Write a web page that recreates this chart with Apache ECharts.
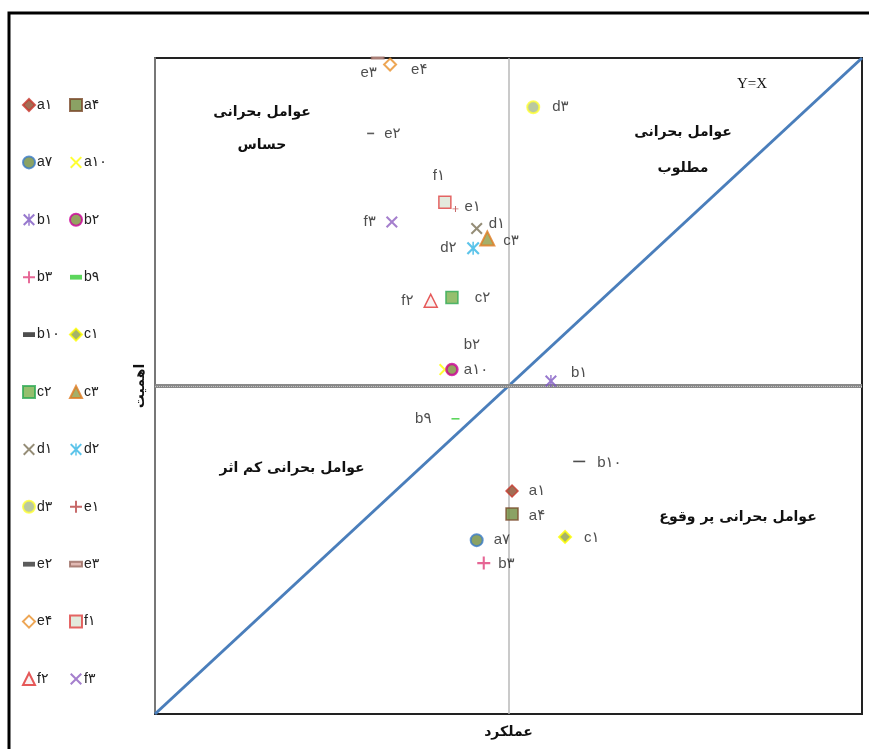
<!DOCTYPE html>
<html>
<head>
<meta charset="utf-8">
<script src="https://cdn.jsdelivr.net/npm/echarts@6/dist/echarts.min.js"></script>
<style>
  html, body { margin: 0; padding: 0; background: #fff; }
  #main { width: 869px; height: 749px; }
</style>
</head>
<body>
<div id="main"></div>
<script>
// factors (names as printed), performance (x) and importance (y)
var names = ['a۱', 'a۴', 'a۷', 'a۱۰', 'b۱', 'b۲', 'b۳', 'b۹', 'b۱۰', 'c۱', 'c۲', 'c۳',
             'd۱', 'd۲', 'd۳', 'e۱', 'e۲', 'e۳', 'e۴', 'f۱', 'f۲', 'f۳'];
var performance = [0.01, 0.01, -0.09, -0.18, 0.12, -0.16, -0.07, -0.15, 0.20, 0.16, -0.16, -0.06,
                   -0.09, -0.10, 0.07, -0.15, -0.39, -0.37, -0.335, -0.18, -0.22, -0.33];
var importance = [-0.32, -0.39, -0.47, 0.05, 0.015, 0.05, -0.54, -0.10, -0.23, -0.46, 0.27, 0.45,
                  0.48, 0.42, 0.85, 0.54, 0.77, 1.00, 0.98, 0.56, 0.26, 0.50];
var diagonal = [[-1, -1], [1, 1]];

// marker shapes
var X_PATH = 'path://M0,1.2 L1.2,0 L5,3.8 L8.8,0 L10,1.2 L6.2,5 L10,8.8 L8.8,10 L5,6.2 L1.2,10 L0,8.8 L3.8,5 Z';
var AST_PATH = X_PATH + ' M4.4,0 H5.6 V10 H4.4 Z';
var PLUS_PATH = 'path://M4.2,0 H5.8 V4.2 H10 V5.8 H5.8 V10 H4.2 V5.8 H0 V4.2 H4.2 Z';
var DASH = 'path://M0,0 H10 V4 H0 Z';

// symbol, size, fill, border, border width, label position, distance, offset
var styles = {
  'a۱':  ['diamond', 12, '#8B4A2B', '#C8372D', 1.5, 'right', 10, [0, 0]],
  'a۴':  ['rect', 12, '#6E8B3D', '#7B4A2A', 1.5, 'right', 10, [0, 2]],
  'a۷':  ['circle', 12, '#6E8B3D', '#3A7BC8', 2, 'right', 10, [0, 0]],
  'a۱۰': ['path', 12, '#FFFF00', null, 0, 'right', 13, [0, 0]],
  'b۱':  ['path', 12, '#7E57C2', null, 0, 'right', 14, [0, -8]],
  'b۲':  ['circle', 11, '#7A8B3A', '#CC0099', 2.5, 'top', 8, [20, -2]],
  'b۳':  ['path', 13, '#E0407A', null, 0, 'right', 8, [0, 1]],
  'b۹':  ['path', [8, 4], '#33CC33', null, 0, 'left', 20, [0, 0]],
  'b۱۰': ['path', [12, 4], '#222222', null, 0, 'right', 12, [0, 1]],
  'c۱':  ['diamond', 12, '#8FA045', '#FFFF00', 2, 'right', 12, [0, 1]],
  'c۲':  ['rect', 12, '#7AAF4A', '#2EAA55', 1.5, 'right', 16, [0, 0]],
  'c۳':  ['triangle', 14, '#8E9B45', '#E07B20', 2, 'right', 8, [0, 2]],
  'd۱':  ['path', 12, '#7A7055', null, 0, 'right', 6, [0, -5]],
  'd۲':  ['path', 13, '#33B5E5', null, 0, 'left', 10, [0, 0]],
  'd۳':  ['circle', 12, '#A7BA8A', '#FFFF33', 2, 'right', 12, [0, 0]],
  'e۱':  ['path', 6, '#B84040', null, 0, 'right', 6, [0, -2]],
  'e۲':  ['path', [7, 4], '#333333', null, 0, 'right', 10, [0, 0]],
  'e۳':  ['path', [12, 5], '#D9A8A0', '#9A6A60', 1.2, 'bottom', 6, [-9, 0]],
  'e۴':  ['diamond', 12, '#FFFFFF', '#E8902A', 2, 'right', 14, [0, 5]],
  'f۱':  ['rect', 12, '#DCE5D5', '#E04040', 1.5, 'top', 8, [-6, -4]],
  'f۲':  ['triangle', 13, '#F7F0F0', '#E03030', 1.5, 'left', 10, [0, 0]],
  'f۳':  ['path', 12, '#8E5FC0', null, 0, 'left', 10, [0, 0]]
};
var pathFor = {
  'a۱۰': X_PATH, 'd۱': X_PATH, 'f۳': X_PATH,
  'b۱': AST_PATH, 'd۲': AST_PATH,
  'b۳': PLUS_PATH, 'e۱': PLUS_PATH,
  'b۹': DASH, 'b۱۰': DASH, 'e۲': DASH, 'e۳': DASH
};

var series = names.map(function (n, i) {
  var s = styles[n];
  var item = { color: s[2] };
  if (s[3]) { item.borderColor = s[3]; item.borderWidth = s[4]; }
  return {
    name: n,
    type: 'scatter',
    symbol: s[0] === 'path' ? pathFor[n] : s[0],
    symbolSize: s[1],
    symbolKeepAspect: true,
    clip: false,
    z: 5,
    itemStyle: item,
    label: {
      show: true,
      position: s[5],
      distance: s[6],
      offset: s[7],
      formatter: '{a}',
      color: '#222',
      fontSize: 15,
      fontFamily: 'Liberation Sans, DejaVu Sans, sans-serif'
    },
    emphasis: { disabled: true },
    data: [[performance[i], importance[i]]]
  };
});

// Y = X line, plus the two centre lines
series.push({
  name: 'Y=X',
  type: 'line',
  data: diagonal,
  symbol: 'none',
  lineStyle: { color: '#4A7EBB', width: 3 },
  z: 3,
  silent: true,
  markLine: {
    silent: true,
    symbol: 'none',
    label: { show: false },
    animation: false,
    data: [
      { xAxis: 0, lineStyle: { color: '#B8B8B8', width: 1.5, type: 'solid' } },
      { yAxis: 0, lineStyle: { color: '#8A8A8A', width: 4, type: 'solid' } },
      { yAxis: 0, lineStyle: { color: '#C4C4C4', width: 1, type: 'dotted' } }
    ]
  }
});

var col1 = names.filter(function (n, i) { return i % 2 === 0; });
var col2 = names.filter(function (n, i) { return i % 2 === 1; });
var legendBase = {
  orient: 'vertical',
  top: 93,
  itemWidth: 12,
  itemHeight: 12,
  itemGap: 43.4,
  selectedMode: false,
  textStyle: { color: '#222', fontSize: 14, lineHeight: 12, padding: [0, 0, 0, -3],
               fontFamily: 'Liberation Sans, DejaVu Sans, sans-serif' }
};

var quadFont = 'bold 14px "DejaVu Sans", sans-serif';
function label(x, y, t, font) {
  return { type: 'text', x: x, y: y, z: 10,
           style: { text: t, font: font || quadFont, fill: '#111', textAlign: 'center', textVerticalAlign: 'middle' } };
}

var chart = echarts.init(document.getElementById('main'));
chart.setOption({
  animation: false,
  backgroundColor: '#fff',
  grid: { left: 155, right: 7, top: 58, bottom: 35, show: true, borderColor: '#222', borderWidth: 2 },
  xAxis: {
    type: 'value', min: -1, max: 1,
    name: 'عملکرد', nameLocation: 'middle', nameGap: 11,
    nameTextStyle: { fontSize: 14, fontWeight: 'bold', color: '#111', fontFamily: 'DejaVu Sans', verticalAlign: 'top' },
    axisLine: { show: true, onZero: false, lineStyle: { color: '#222', width: 2 } },
    axisTick: { show: false }, axisLabel: { show: false }, splitLine: { show: false }
  },
  yAxis: {
    type: 'value', min: -1, max: 1,
    name: 'اهمیت', nameLocation: 'middle', nameGap: 8, nameRotate: 90,
    nameTextStyle: { fontSize: 14, fontWeight: 'bold', color: '#111', fontFamily: 'DejaVu Sans' },
    axisLine: { show: true, onZero: false, lineStyle: { color: '#777', width: 2 } },
    axisTick: { show: false }, axisLabel: { show: false }, splitLine: { show: false }
  },
  legend: [
    Object.assign({}, legendBase, { left: 17, data: col1 }),
    Object.assign({}, legendBase, { left: 64, data: col2 })
  ],
  graphic: [
    { type: 'rect', z: -1, shape: { x: 9, y: 13, width: 900, height: 800 },
      style: { fill: 'none', stroke: '#000', lineWidth: 3 } },
    label(262, 112, 'عوامل بحرانی'),
    label(262, 145, 'حساس'),
    label(683, 132, 'عوامل بحرانی'),
    label(683, 168, 'مطلوب'),
    label(292, 468, 'عوامل بحرانی کم اثر'),
    label(738, 517, 'عوامل بحرانی پر وقوع'),
    label(752, 84, 'Y=X', '15px "Liberation Serif", serif')
  ],
  series: series
});
</script>
</body>
</html>
